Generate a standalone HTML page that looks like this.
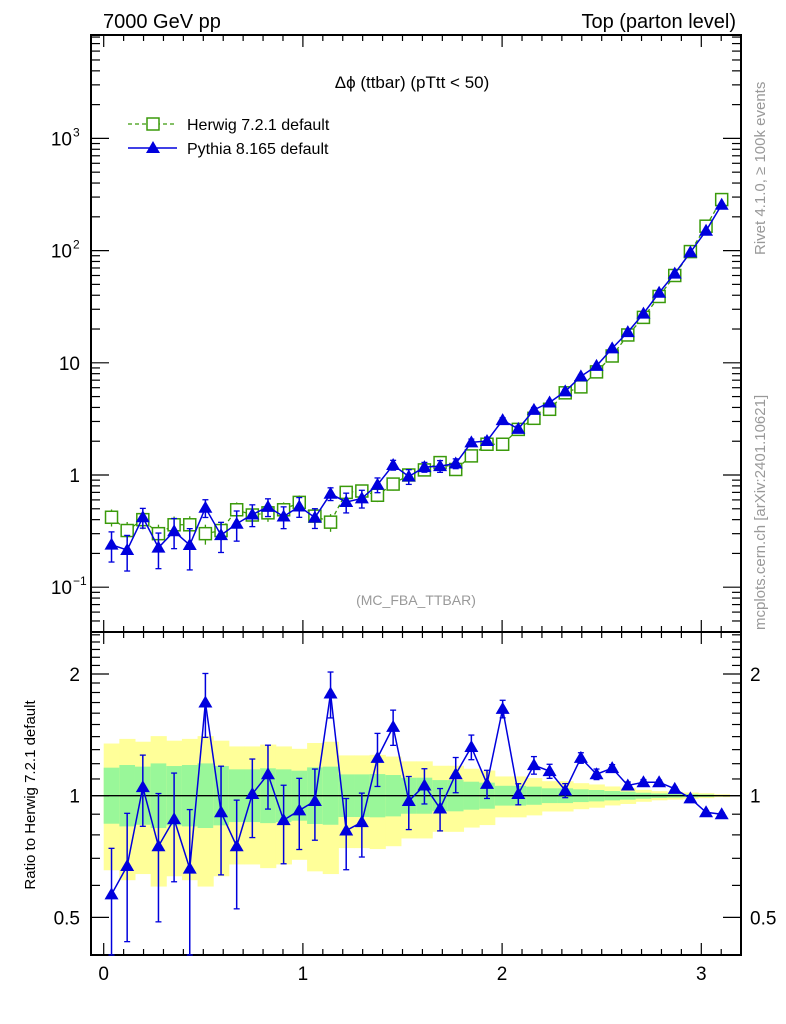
<!DOCTYPE html>
<html><head><meta charset="utf-8"><style>
html,body{margin:0;padding:0;background:#fff;}
svg{display:block;font-family:"Liberation Sans",sans-serif;}
</style></head><body>
<svg id="chart" width="786" height="1024" viewBox="0 0 786 1024" xmlns="http://www.w3.org/2000/svg">
<text x="103" y="28" font-size="20">7000 GeV pp</text>
<text x="736" y="28" font-size="20" text-anchor="end">Top (parton level)</text>
<text x="412" y="88" font-size="17" text-anchor="middle">Δϕ (ttbar) (pTtt &lt; 50)</text>
<text x="416" y="605" font-size="14" fill="#999" text-anchor="middle">(MC_FBA_TTBAR)</text>
<text transform="translate(765,255) rotate(-90)" font-size="15" fill="#999">Rivet 4.1.0, ≥ 100k events</text>
<text transform="translate(765,630) rotate(-90)" font-size="15" fill="#999">mcplots.cern.ch [arXiv:2401.10621]</text>
<text transform="translate(35,795) rotate(-90)" font-size="15" text-anchor="middle">Ratio to Herwig 7.2.1 default</text>
<g id="legend">
<g>
<line x1="128" y1="124" x2="177" y2="124" stroke="#3a9a0a" stroke-width="1.3" stroke-dasharray="4,3"/>
<rect x="147" y="118" width="12" height="12" fill="#fff" stroke="#3a9a0a" stroke-width="1.5"/>
<text x="187" y="130" font-size="16">Herwig 7.2.1 default</text></g>
<g>
<line x1="128" y1="148" x2="177" y2="148" stroke="#0000dd" stroke-width="1.5"/>
<polygon points="153,141 160,153 146,153" fill="#0000dd"/>
<text x="187" y="154" font-size="16">Pythia 8.165 default</text></g>
</g>
</svg>
<script>
const herwig=[0.42,0.32,0.40,0.30,0.36,0.36,0.30,0.32,0.49,0.44,0.46,0.49,0.57,0.43,0.38,0.70,0.72,0.66,0.83,1.0,1.11,1.29,1.12,1.48,1.88,1.88,2.55,3.2,3.85,5.4,6.1,8.3,11.5,17.7,25.4,39,60,98,165,285];
const ratio=[0.57,0.67,1.05,0.75,0.875,0.66,1.70,0.91,0.75,1.01,1.13,0.87,0.92,0.97,1.79,0.82,0.86,1.24,1.48,0.97,1.06,0.93,1.13,1.32,1.07,1.64,1.01,1.19,1.15,1.03,1.24,1.13,1.17,1.06,1.08,1.08,1.04,0.985,0.91,0.90];
const herwigErr=[0.173,0.191,0.18,0.202,0.184,0.191,0.202,0.184,0.162,0.162,0.169,0.162,0.153,0.175,0.18,0.129,0.129,0.131,0.125,0.108,0.108,0.093,0.093,0.083,0.077,0.058,0.058,0.053,0.043,0.043,0.037,0.033,0.027,0.023,0.017,0.013,0.011,0.009,0.007,0.004];
const pythiaErr=[0.3,0.35,0.2,0.35,0.3,0.4,0.18,0.3,0.3,0.22,0.18,0.22,0.2,0.2,0.13,0.2,0.18,0.15,0.1,0.15,0.1,0.12,0.1,0.07,0.08,0.05,0.06,0.05,0.04,0.04,0.03,0.03,0.02,0.02,0.015,0.012,0.01,0.01,0.008,0.008];
const xTicks=[0,1,2,3];
const mainTicks=[{v:1000,l:"10",e:"3"},{v:100,l:"10",e:"2"},{v:10,l:"10"},{v:1,l:"1"},{v:0.1,l:"10",e:"−1"}];
const ratioTicks=[2,1,0.5];

const NS="http://www.w3.org/2000/svg";
const svg=document.getElementById('chart');
const L=91,R=741,T=35,M=632,B=955;
const nb=herwig.length, W=Math.PI/nb;
const X=v=>103.7+v*199.2;
const Y=v=>475-Math.log10(v)*112.2;
const YR=v=>795.7-Math.log2(v)*121.7;
function el(tag,at,parent){const e=document.createElementNS(NS,tag);for(const k in at)e.setAttribute(k,at[k]);(parent||svg).appendChild(e);return e;}

// ratio bands
const bands=el('g',{});


herwig.forEach((h,i)=>{const e=herwigErr[i],x0=X(i*W),x1=X((i+1)*W);
 const y=el('rect',{x:x0,y:YR(1+2*e),width:x1-x0+0.5,height:YR(1-2*e)-YR(1+2*e),fill:'#ffff99'},bands);
 
 
 const g=el('rect',{x:x0,y:YR(1+e),width:x1-x0+0.5,height:YR(1/(1+e))-YR(1+e),fill:'#99f799'},bands);
 
 });
el('line',{x1:L,y1:YR(1),x2:R,y2:YR(1),stroke:'#000','stroke-width':1.3});

// frames
el('rect',{x:L,y:T,width:R-L,height:M-T,fill:'none',stroke:'#000','stroke-width':2});
el('rect',{x:L,y:M,width:R-L,height:B-M,fill:'none',stroke:'#000','stroke-width':2});
// x ticks
for(let k=0;k<=32;k++){const v=k/10,x=X(v);if(x>R-1)break;const len=(k%10==0)?12:6;
 [[T,1],[M,-1],[M,1],[B,-1]].forEach(([y,d])=>el('line',{x1:x,y1:y,x2:x,y2:y+d*len,stroke:'#000','stroke-width':1.2}));}
xTicks.forEach(v=>{const t=el('text',{x:X(v),y:980,'font-size':19,'text-anchor':'middle'});t.textContent=v;
 
 });
// main y ticks
for(let d=-2;d<=3;d++)for(let m=1;m<10;m++){const v=m*Math.pow(10,d),y=Y(v);if(y<T||y>M)continue;const len=m==1?18:9;
 el('line',{x1:L,y1:y,x2:L+len,y2:y,stroke:'#000','stroke-width':1.2});el('line',{x1:R,y1:y,x2:R-len,y2:y,stroke:'#000','stroke-width':1.2});}
mainTicks.forEach(t=>{const g=el('text',{x:t.e?72:80,y:Y(t.v)+7,'font-size':19,'text-anchor':'end'});g.textContent=t.l;
 
 
 if(t.e){const s=el('text',{x:73,y:Y(t.v)-2,'font-size':12});s.textContent=t.e;}});
// ratio y ticks
for(let k=4;k<=25;k++){const v=k/10,y=YR(v);if(y<M||y>B)continue;const len=(k==5||k==10||k==20)?18:9;
 el('line',{x1:L,y1:y,x2:L+len,y2:y,stroke:'#000','stroke-width':1.2});el('line',{x1:R,y1:y,x2:R-len,y2:y,stroke:'#000','stroke-width':1.2});}
ratioTicks.forEach(v=>{[[80,'end'],[750,'start']].forEach(([x,a])=>{const g=el('text',{x:x,y:YR(v)+7,'font-size':19,'text-anchor':a});g.textContent=v;
 
 });});

function clip(y,lo,hi){return Math.max(lo,Math.min(hi,y));}
// main series
const hg=el('g',{});
const pg=el('g',{});
const pythia=herwig.map((h,i)=>h*ratio[i]);
el('polyline',{points:herwig.map((h,i)=>X((i+.5)*W)+','+Y(h)).join(' '),fill:'none',stroke:'#3a9a0a','stroke-width':1.3,'stroke-dasharray':'4,3'},hg);
herwig.forEach((h,i)=>{const x=X((i+.5)*W),e=herwigErr[i];
 el('line',{x1:x,y1:Y(h*(1+e)),x2:x,y2:Y(h*(1-e)),stroke:'#3a9a0a','stroke-width':1.3},hg);
 const r=el('rect',{x:x-6,y:Y(h)-6,width:12,height:12,fill:'#fff',stroke:'#3a9a0a','stroke-width':1.5},hg);
 
 });
el('polyline',{points:pythia.map((p,i)=>X((i+.5)*W)+','+Y(p)).join(' '),fill:'none',stroke:'#0000dd','stroke-width':1.5},pg);
pythia.forEach((p,i)=>{const x=X((i+.5)*W),e=pythiaErr[i];
 const y1=Y(p*(1+e)),y2=Y(p*(1-e));
 el('line',{x1:x,y1:y1,x2:x,y2:y2,stroke:'#0000dd','stroke-width':1.5},pg);
 el('line',{x1:x-3,y1:y1,x2:x+3,y2:y1,stroke:'#0000dd','stroke-width':1.3},pg);
 el('line',{x1:x-3,y1:y2,x2:x+3,y2:y2,stroke:'#0000dd','stroke-width':1.3},pg);
 const y=Y(p);const t=el('polygon',{points:`${x},${y-7} ${x+7},${y+5} ${x-7},${y+5}`,fill:'#0000dd'},pg);
 
 });
// ratio series
const rg=el('g',{});
el('polyline',{points:ratio.map((r,i)=>X((i+.5)*W)+','+YR(r)).join(' '),fill:'none',stroke:'#0000dd','stroke-width':1.5},rg);
ratio.forEach((r,i)=>{const x=X((i+.5)*W),e=pythiaErr[i];
 const y1=clip(YR(r*(1+e)),M,B),y2=clip(YR(r*(1-e)),M,B);
 el('line',{x1:x,y1:y1,x2:x,y2:y2,stroke:'#0000dd','stroke-width':1.5},rg);
 el('line',{x1:x-3,y1:y1,x2:x+3,y2:y1,stroke:'#0000dd','stroke-width':1.3},rg);
 el('line',{x1:x-3,y1:y2,x2:x+3,y2:y2,stroke:'#0000dd','stroke-width':1.3},rg);
 const y=YR(r);const t=el('polygon',{points:`${x},${y-7} ${x+7},${y+5} ${x-7},${y+5}`,fill:'#0000dd'},rg);
 
 });
</script>
</body></html>
